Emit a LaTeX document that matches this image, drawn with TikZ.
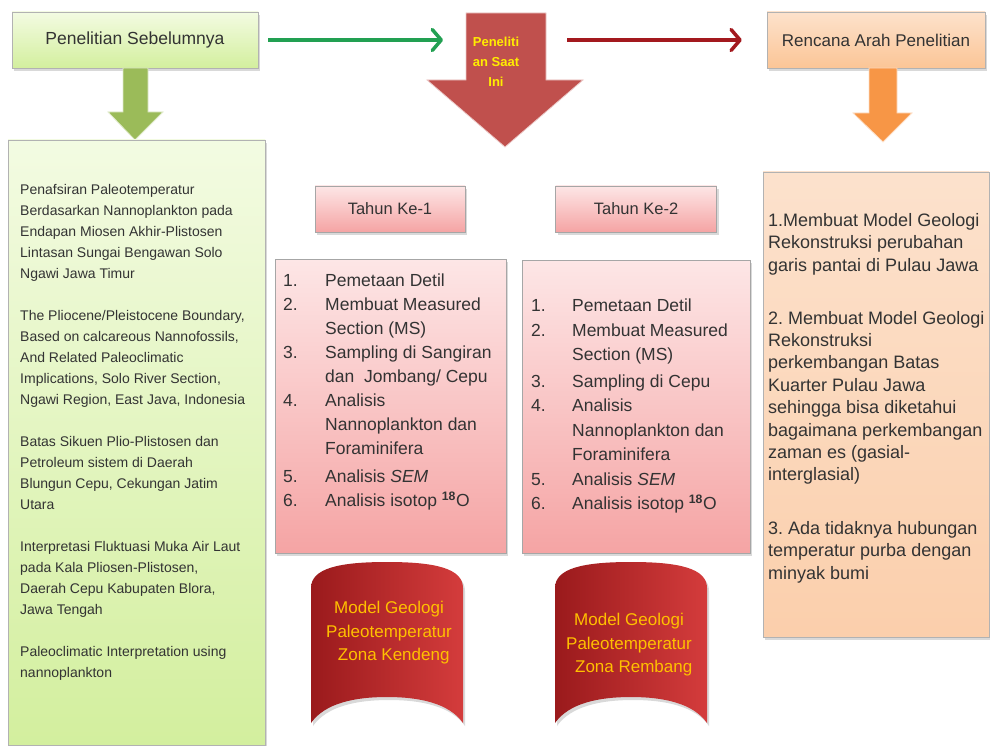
\documentclass[tikz,border=0pt]{standalone}
\usepackage{fontspec}
\setmainfont{Liberation Sans}
\usepackage{xcolor}
\usetikzlibrary{arrows.meta,shadows}
\frenchspacing

% colours of the three columns
\definecolor{grLight}{HTML}{F3FBE2}
\definecolor{grDark}{HTML}{D3EF9E}
\definecolor{grArrow}{HTML}{9BBB59}
\definecolor{grLine}{HTML}{22A052}
\definecolor{pkLight}{HTML}{FDE6E6}
\definecolor{pkDark}{HTML}{F5A4A4}
\definecolor{rdArrow}{HTML}{C0504D}
\definecolor{rdLine}{HTML}{A3191E}
\definecolor{rdDark}{HTML}{9A1A1C}
\definecolor{rdLight}{HTML}{D43C3C}
\definecolor{orLight}{HTML}{FDE2CC}
\definecolor{orDark}{HTML}{FBC596}
\definecolor{orFlat}{HTML}{FBD5B7}
\definecolor{orArrow}{HTML}{F79646}
\definecolor{txt}{HTML}{333333}
\definecolor{gold}{HTML}{FFC000}

\tikzset{
  shade/.style={drop shadow={opacity=0.3,shadow xshift=2pt,shadow yshift=-3pt}},
  greenbox/.style={shade, draw=black!30, top color=grLight, bottom color=grDark},
  pinkbox/.style={shade, draw=black!35, top color=pkLight, bottom color=pkDark},
  orangebox/.style={shade, draw=black!30, top color=orLight, bottom color=orDark},
  blkarrow/.style={draw=white!70!#1, fill=#1, line width=0.8pt},
  flowline/.style={line width=3.5pt, -{Straight Barb[length=9pt,width=21pt,line cap=round,line join=round]}},
  txtblock/.style={anchor=north west, inner sep=0pt, align=left, text=txt}
}

\begin{document}
\begin{tikzpicture}[x=1pt, y=-1pt]
  \useasboundingbox (0,0) rectangle (990,746);

  % Draw the three heading boxes
  \node[greenbox, minimum width=246pt, minimum height=56pt,
        font=\fontsize{17.5}{20}\selectfont, text=txt] (prev) at (135,40) {Penelitian Sebelumnya};
  \node[orangebox, minimum width=218pt, minimum height=56pt,
        font=\fontsize{17}{20}\selectfont, text=txt] (next) at (876,40) {Rencana Arah Penelitian};

  % Block arrows pointing down
  \filldraw[blkarrow=grArrow] (123,68) -- (148,68) -- (148,112) -- (163,112)
    -- (135,140) -- (108,112) -- (123,112) -- cycle;
  \filldraw[blkarrow=rdArrow] (466,13) -- (546,13) -- (546,80) -- (583,80)
    -- (505,147) -- (427,80) -- (466,80) -- cycle;
  \filldraw[blkarrow=orArrow] (869,68) -- (897,68) -- (897,113) -- (912,113)
    -- (883,142) -- (853,113) -- (869,113) -- cycle;
  \node[font=\fontsize{13}{20}\selectfont\bfseries, text=yellow!95!orange, align=center]
    (now) at (496,62) {Peneliti\\an Saat\\Ini};

  % Lines between the headings
  \coordinate (nowL) at (443,40);
  \coordinate (nowR) at (567,40);
  \draw[flowline, grLine] ([xshift=10pt]prev.east) -- (nowL);
  \draw[flowline, rdLine] (nowR) -- ([xshift=-25pt]next.west);

  % Previous research
  \node[greenbox, minimum width=257pt, minimum height=605pt] (prevlist) at (136.5,442.5) {};
  \node[txtblock, font=\fontsize{14}{21}\selectfont] (prevtxt) at (20,184) {%
    Penafsiran Paleotemperatur\\
    Berdasarkan Nannoplankton pada\\
    Endapan Miosen Akhir-Plistosen\\
    Lintasan Sungai Bengawan Solo\\
    Ngawi Jawa Timur\\[21pt]
    The Pliocene/Pleistocene Boundary,\\
    Based on calcareous Nannofossils,\\
    And Related Paleoclimatic\\
    Implications, Solo River Section,\\
    Ngawi Region, East Java, Indonesia\\[21pt]
    Batas Sikuen Plio-Plistosen dan\\
    Petroleum sistem di Daerah\\
    Blungun Cepu, Cekungan Jatim\\
    Utara\\[21pt]
    Interpretasi Fluktuasi Muka Air Laut\\
    pada Kala Pliosen-Plistosen,\\
    Daerah Cepu Kabupaten Blora,\\
    Jawa Tengah\\[21pt]
    Paleoclimatic Interpretation using\\
    nannoplankton};

  % Year 1 and year 2
  \node[pinkbox, minimum width=150pt, minimum height=46pt,
        font=\fontsize{16.5}{20}\selectfont, text=txt] (year1) at (390,209) {Tahun Ke-1};
  \node[pinkbox, minimum width=161pt, minimum height=46pt,
        font=\fontsize{16.5}{20}\selectfont, text=txt] (year2) at (636,209) {Tahun Ke-2};

  \node[pinkbox, minimum width=231pt, minimum height=294pt] (plan1) at (390.5,406) {};
  \node[pinkbox, minimum width=228pt, minimum height=293pt] (plan2) at (636,406.5) {};

  \node[txtblock, font=\fontsize{17.5}{24}\selectfont] (plan1txt) at (283,274) {%
    \makebox[42pt][l]{1.}Pemetaan Detil\\
    \makebox[42pt][l]{2.}Membuat Measured\\
    \makebox[42pt][l]{}Section (MS)\\
    \makebox[42pt][l]{3.}Sampling di Sangiran\\
    \makebox[42pt][l]{}dan\ \ Jombang/ Cepu\\
    \makebox[42pt][l]{4.}Analisis\\
    \makebox[42pt][l]{}Nannoplankton dan\\
    \makebox[42pt][l]{}Foraminifera\\[4pt]
    \makebox[42pt][l]{5.}Analisis \textit{SEM}\\
    \makebox[42pt][l]{6.}Analisis isotop \textsuperscript{\bfseries 18}O};
  \node[txtblock, font=\fontsize{17.5}{24.5}\selectfont] (plan2txt) at (531,299) {%
    \makebox[41pt][l]{1.}Pemetaan Detil\\
    \makebox[41pt][l]{2.}Membuat Measured\\
    \makebox[41pt][l]{}Section (MS)\\[2pt]
    \makebox[41pt][l]{3.}Sampling di Cepu\\
    \makebox[41pt][l]{4.}Analisis\\
    \makebox[41pt][l]{}Nannoplankton dan\\
    \makebox[41pt][l]{}Foraminifera\\
    \makebox[41pt][l]{5.}Analisis \textit{SEM}\\
    \makebox[41pt][l]{6.}Analisis isotop \textsuperscript{\bfseries 18}O};

  % Banners with the geological models
  \shade[left color=rdDark, right color=rdLight]
    (311,723) -- (311,588) .. controls (311,568) and (340,562) .. (387,562)
    .. controls (434,562) and (463,568) .. (463,588) -- (463,723)
    .. controls (449,703) and (419,697) .. (387,697)
    .. controls (355,697) and (325,703) .. (311,723) -- cycle;
  \shade[left color=rdDark, right color=rdLight]
    (555,723) -- (555,588) .. controls (555,568) and (584,562) .. (631,562)
    .. controls (678,562) and (707,568) .. (707,588) -- (707,723)
    .. controls (693,703) and (663,697) .. (631,697)
    .. controls (599,697) and (569,703) .. (555,723) -- cycle;
  \node[font=\fontsize{17}{23.5}\selectfont, text=gold, align=center]
    (model1) at (389,633) {Model Geologi\\Paleotemperatur\\\ \ Zona Kendeng};
  \node[font=\fontsize{17}{23.5}\selectfont, text=gold, align=center]
    (model2) at (629,645) {Model Geologi\\Paleotemperatur\\\ \ Zona Rembang};

  % Research plan
  \node[orangebox, top color=orFlat!70!white, bottom color=orFlat!90!orArrow,
        minimum width=226pt, minimum height=465pt] (nextlist) at (876,404.5) {};
  \node[txtblock, font=\fontsize{18}{22.4}\selectfont] (nexttxt) at (768,213) {%
    1.Membuat Model Geologi\\
    Rekonstruksi perubahan\\
    garis pantai di Pulau Jawa\\[30.6pt]
    2. Membuat Model Geologi\\
    Rekonstruksi\\
    perkembangan Batas\\
    Kuarter Pulau Jawa\\
    sehingga bisa diketahui\\
    bagaimana perkembangan\\
    zaman es (gasial-\\
    interglasial)\\[31pt]
    3. Ada tidaknya hubungan\\
    temperatur purba dengan\\
    minyak bumi};
\end{tikzpicture}
\end{document}
